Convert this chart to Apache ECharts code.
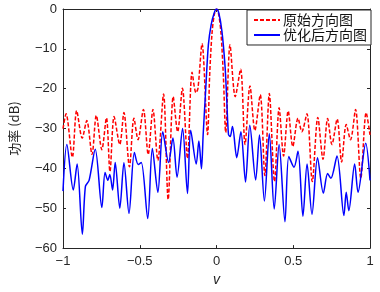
<!DOCTYPE html>
<html>
<head>
<meta charset="utf-8">
<script src="https://cdn.jsdelivr.net/npm/echarts@6/dist/echarts.min.js"></script>
<style>
  html, body { margin: 0; padding: 0; background: #fff; }
  #chart { width: 380px; height: 292px; }
</style>
</head>
<body>
<div id="chart"></div>
<script>
// 原始方向图 (红色虚线)
var origV  = [-1.0, -0.98, -0.939, -0.911, -0.875, -0.845, -0.811, -0.783, -0.747, -0.717, -0.694, -0.667,
              -0.63, -0.603, -0.567, -0.538, -0.511, -0.476, -0.445, -0.414, -0.382, -0.345, -0.315, -0.282,
              -0.253, -0.222, -0.189, -0.159, -0.134, -0.121, -0.094, -0.058, -0.045, -0.03, -0.015, 0,
              0.015, 0.03, 0.045, 0.06, 0.088, 0.122, 0.157, 0.186, 0.218, 0.25, 0.285, 0.315, 0.344, 0.378,
              0.408, 0.437, 0.467, 0.497, 0.531, 0.556, 0.589, 0.624, 0.66, 0.694, 0.724, 0.752, 0.786,
              0.815, 0.845, 0.873, 0.906, 0.94, 0.975, 1.0];
var origDb = [-30, -26.3, -37.2, -25.5, -32.4, -28, -36.5, -26.7, -35.3, -27.3, -40.8, -27,
              -34, -26, -39.6, -27.4, -32.8, -25.2, -36.5, -25.2, -38, -21.3, -47.8, -22,
              -30.8, -19.9, -37.5, -15.9, -21, -20, -8.7, -31.5, -17, -6.5, -1.5, 0,
              -1.5, -6.5, -17, -31, -9, -22, -15.1, -34, -19.3, -30.5, -21.5, -41.8, -21.2, -43.3,
              -24.8, -36.9, -25.6, -34.5, -27.4, -30.8, -26.3, -43.3, -27.2, -37.7, -27.5, -34, -27.6,
              -38.4, -29, -32.8, -25.2, -42.5, -26, -31.6];

// 优化后方向图 (蓝色实线)
var optV  = [-1.0, -0.975, -0.933, -0.908, -0.874, -0.854, -0.83, -0.79, -0.747, -0.726, -0.708, -0.695,
             -0.677, -0.66, -0.63, -0.603, -0.57, -0.535, -0.51, -0.49, -0.448, -0.418, -0.382, -0.35,
             -0.312, -0.284, -0.257, -0.221, -0.189, -0.168, -0.132, -0.115, -0.098, -0.087, -0.07, -0.053,
             -0.035, -0.015, 0, 0.015, 0.035, 0.055, 0.066, 0.078, 0.089, 0.104, 0.132, 0.159, 0.189,
             0.217, 0.255, 0.28, 0.312, 0.344, 0.376, 0.408, 0.446, 0.471, 0.505, 0.531, 0.563, 0.59,
             0.622, 0.658, 0.696, 0.724, 0.745, 0.785, 0.83, 0.845, 0.862, 0.9, 0.922, 0.972, 1.0];
var optDb = [-45.7, -34, -45.4, -38.9, -56.5, -44.5, -43, -35.2, -49.8, -41, -43, -41.5,
             -45.4, -38.5, -50, -38.6, -51.3, -36, -39, -38.5, -52.6, -35, -46, -30.8,
             -38.5, -32.4, -42.2, -30, -46.3, -30.4, -38.9, -33.1, -40.1, -31.6, -20, -9,
             -4, -1, 0, -1, -5.5, -14, -22, -31.5, -32, -29.5, -37.3, -30.8, -43.4,
             -29.2, -42.9, -31.6, -48.2, -31.3, -50.2, -34, -53.4, -37, -39.7, -35.7, -52, -38.9,
             -51.5, -37.3, -46.2, -41.3, -42.5, -36.9, -51.8, -46, -50.6, -38.9, -46, -33.7, -43];

var xTicks = [-1, -0.5, 0, 0.5, 1];
var yTicks = [-60, -50, -40, -30, -20, -10, 0];

function pairs(xs, ys) {
    return xs.map(function(x, i) { return [x, ys[i]]; });
}

var axisColor = '#262626';
var numFont = 'Liberation Sans';

function fmt(v) {
    return String(v).replace('-', '\u2212');
}

// 方框四边都有朝内的刻度（上/右两条轴不显示标签）
function frameAxis(base, extra) {
    return Object.assign({
        type: 'value',
        axisLine: { show: true, onZero: false, lineStyle: { color: axisColor, width: 1 } },
        axisTick: { show: true, inside: true, length: 3, lineStyle: { color: axisColor } },
        splitLine: { show: false }
    }, base, extra);
}

var myChart = echarts.init(document.getElementById('chart'), null, { renderer: 'canvas' });

var xBase = { min: xTicks[0], max: xTicks[xTicks.length - 1], interval: 0.5 };
var yBase = { min: yTicks[0], max: yTicks[yTicks.length - 1], interval: 10 };

var option = {
    backgroundColor: '#fff',
    animation: false,
    grid: { left: 56, right: 10, top: 9, bottom: 35 },
    legend: {
        orient: 'vertical',
        right: 9,
        top: 10,
        itemWidth: 26,
        itemHeight: 10,
        itemGap: 1,
        padding: [3, 4, 3, 6],
        backgroundColor: '#fff',
        borderColor: axisColor,
        borderWidth: 1,
        borderRadius: 0,
        itemStyle: { opacity: 0 },
        textStyle: { fontFamily: 'Noto Sans CJK SC', fontSize: 14, color: '#111', padding: [0, 0, 0, -2] },
        data: ['原始方向图', '优化后方向图']
    },
    xAxis: [
        frameAxis(xBase, {
            name: 'v',
            nameLocation: 'middle',
            nameGap: 24,
            nameTextStyle: { fontFamily: numFont, fontStyle: 'italic', fontSize: 14, color: axisColor },
            axisLabel: { margin: 7, fontFamily: numFont, fontSize: 13, color: axisColor, formatter: fmt }
        }),
        frameAxis(xBase, { position: 'top', axisLabel: { show: false } })
    ],
    yAxis: [
        frameAxis(yBase, {
            name: '功率 (dB)',
            nameLocation: 'middle',
            nameGap: 42,
            nameTextStyle: { fontFamily: 'Noto Sans CJK SC', fontSize: 13, color: axisColor },
            axisLabel: { margin: 6, fontFamily: numFont, fontSize: 13, color: axisColor, formatter: fmt }
        }),
        frameAxis(yBase, { position: 'right', axisLabel: { show: false } })
    ],
    series: [{
        name: '原始方向图',
        type: 'line',
        xAxisIndex: 0, yAxisIndex: 0,
        symbol: 'none',
        smooth: 0.3,
        color: '#ff0000',
        lineStyle: { color: '#ff0000', width: 1.5, type: [4, 2] },
        data: pairs(origV, origDb)
    }, {
        name: '优化后方向图',
        type: 'line',
        xAxisIndex: 0, yAxisIndex: 0,
        symbol: 'none',
        smooth: 0.3,
        color: '#0000ff',
        lineStyle: { color: '#0000ff', width: 1.5 },
        data: pairs(optV, optDb)
    }]
};

myChart.setOption(option);
</script>
</body>
</html>
